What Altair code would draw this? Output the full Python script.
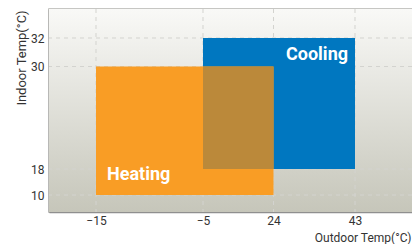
import altair as alt
import pandas as pd

# ---- data ----
zones = ["Cooling", "Heating"]
outdoor_min = [-5, -15]
outdoor_max = [43, 24]
indoor_min = [18, 10]
indoor_max = [32, 30]
zone_colors = ["#0077c0", "#f99d25"]
overlap_color = "#bb893a"

x_ticks = [-15, -5, 24, 43]
y_ticks = [10, 18, 30, 32]

df = pd.DataFrame({
    "zone": zones,
    "x0": outdoor_min, "x1": outdoor_max,
    "y0": indoor_min, "y1": indoor_max,
})

ov = pd.DataFrame({
    "x0": [max(outdoor_min)], "x1": [min(outdoor_max)],
    "y0": [max(indoor_min)], "y1": [min(indoor_max)],
})

FONT = "Roboto, sans-serif"
LFONT = "Roboto, sans-serif"

W, H = 363, 203

xscale = alt.Scale(domain=[-20, -15, -5, 24, 43, 58],
                   range=[0, 47, 154, 224.5, 306, 369], nice=False, zero=False)
yscale = alt.Scale(domain=[6, 10, 18, 30, 32, 35],
                   range=[203, 186, 160, 57.5, 29, 0], nice=False, zero=False)

xaxis = alt.Axis(values=x_ticks, title="Outdoor Temp(°C)", ticks=False, tickSize=0, grid=False,
                 labelPadding=3, labelFontSize=12, labelColor="#333", labelFont=LFONT,
                 titleFont=LFONT, titleFontSize=12, titleFontWeight="normal", titleColor="#333",
                 titleAnchor="end", titleAlign="right", titleBaseline="alphabetic",
                 titleX=362, titleY=29,
                 domainColor="#8f8f8f", domainWidth=1.5)
yaxis = alt.Axis(values=y_ticks, title="Indoor Temp(°C)", ticks=False, tickSize=0, grid=False,
                 labelPadding=5, labelFontSize=12, labelColor="#333", labelFont=LFONT,
                 titleFont=LFONT, titleFontSize=13, titleFontWeight="normal", titleColor="#333",
                 titleAngle=270, titleAlign="right", titleBaseline="middle",
                 titleX=-28, titleY=1,
                 domainColor="#8f8f8f", domainWidth=1.5)

grad = alt.LinearGradient(gradient="linear", x1=0, y1=0, x2=0, y2=1,
                          stops=[alt.GradientStop(offset=0, color="#f9f9f7"),
                                 alt.GradientStop(offset=1, color="#c6c6ba")])

bg = alt.Chart(pd.DataFrame({"a": [0]})).mark_rect(color=grad).encode(
    x=alt.value(0), x2=alt.value(W), y=alt.value(0), y2=alt.value(H),
)

xgrid = alt.Chart(pd.DataFrame({"v": x_ticks})).mark_rule(
    color="#d3d3cf", strokeDash=[4, 4], strokeWidth=1).encode(
    x=alt.X("v:Q", scale=xscale, axis=xaxis))
ygrid = alt.Chart(pd.DataFrame({"v": y_ticks})).mark_rule(
    color="#d3d3cf", strokeDash=[4, 4], strokeWidth=1).encode(
    y=alt.Y("v:Q", scale=yscale, axis=yaxis))

rects = alt.Chart(df).mark_rect().encode(
    x=alt.X("x0:Q"),
    x2="x1:Q",
    y=alt.Y("y0:Q"),
    y2="y1:Q",
    color=alt.Color("zone:N", scale=alt.Scale(domain=zones, range=zone_colors), legend=None),
)

overlap = alt.Chart(ov).mark_rect(color=overlap_color).encode(
    x="x0:Q", x2="x1:Q", y="y0:Q", y2="y1:Q",
)

cool_lbl = alt.Chart(df[df.zone == "Cooling"]).mark_text(
    align="right", baseline="alphabetic", dx=-7, dy=22,
    font=FONT, fontSize=18, fontWeight="bold", color="white",
).encode(x="x1:Q", y="y1:Q", text="zone:N")

heat_lbl = alt.Chart(df[df.zone == "Heating"]).mark_text(
    align="left", baseline="alphabetic", dx=11, dy=-15,
    font=FONT, fontSize=18, fontWeight="bold", color="white",
).encode(x="x0:Q", y="y0:Q", text="zone:N")

chart = alt.layer(bg, xgrid, ygrid, rects, overlap, cool_lbl, heat_lbl).properties(
    width=W, height=H,
    autosize=alt.AutoSizeParams(type="none"),
    padding={"left": 41, "top": 1, "right": 0, "bottom": 32},
).configure_view(
    stroke="#b4b4b0", strokeWidth=1.5,
)

chart.save("out.html", embed_options={"renderer": "svg", "actions": False})
